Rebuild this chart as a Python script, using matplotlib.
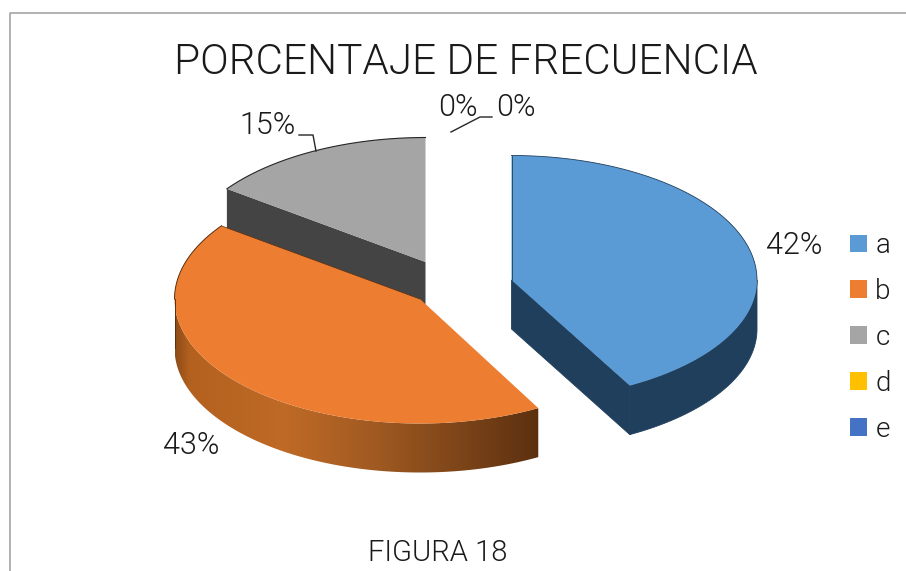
import numpy as np
import matplotlib
matplotlib.use("Agg")
import matplotlib.pyplot as plt
from matplotlib.colors import LinearSegmentedColormap
from matplotlib.patches import Patch, Polygon

categories = ["a", "b", "c", "d", "e"]
values = [42, 43, 15, 0, 0]
labels = ["42%", "43%", "15%", "0%", "0%"]
title = "PORCENTAJE DE FRECUENCIA"
caption = "FIGURA 18"
top_colors = ["#5B9BD5", "#ED7D31", "#A5A5A5", "#FFC000", "#4472C4"]
side_colors = ["#203F5C", "#7A4015", "#444444", "#7F6000", "#203864"]
edge_colors = ["#1F3F5C", "#5C2F10", "#262626", "#7F6000", "#203864"]

FONT = "Roboto"
W = 300
fig = plt.figure(figsize=(9.06, 5.71), dpi=100)
ax = fig.add_axes([0, 0, 1, 1])
ax.set_axis_off()

RX, RY, DEPTH = 245.5, 124.5, 49
centers = {0: (511.5, 280), 1: (420, 299), 2: (425.5, 262)}
front_ry = {0: 120.5, 1: 124.5, 2: 124.5}


def arc(c, t0, t1, dy=0, n=200, ry=RY):
    t = np.radians(np.linspace(t0, t1, n))
    cos = np.cos(t)
    k = np.where(cos < 0, ry, RY)
    return np.column_stack([c[0] + RX * np.sin(t), c[1] - k * cos + dy])


def wall(c, t0, t1, ry=RY):
    a = arc(c, t0, t1, ry=ry)
    return np.vstack([a, arc(c, t0, t1, DEPTH, ry=ry)[::-1]])


edges = np.concatenate([[0], np.cumsum(values)]) / sum(values) * 360
spans = [(edges[i], edges[i + 1]) for i in range(len(values))]

# Grey slice, furthest back
c = centers[2]
t0, t1 = spans[2]
end = arc(c, t0, t0, n=1)[0]
ax.add_patch(Polygon([end, c, (c[0], c[1] + DEPTH), (end[0], end[1] + DEPTH)],
                     fc=side_colors[2], ec="none", zorder=1))
ax.add_patch(Polygon(np.vstack([[c], arc(c, t0, t1)]), fc=top_colors[2], ec="none", zorder=2))
ax.plot(*arc(c, t0, t1).T, color=edge_colors[2], lw=0.8, zorder=3)

# Blue slice
c = centers[0]
t0, t1 = spans[0]
ry = front_ry[0]
end = arc(c, t1, t1, n=1, ry=ry)[0]
ax.add_patch(Polygon([c, end, (end[0], end[1] + DEPTH), (c[0], c[1] + DEPTH)],
                     fc=side_colors[0], ec=side_colors[0], lw=0.6, zorder=2))
ax.add_patch(Polygon(wall(c, 90, t1, ry=ry), fc=side_colors[0], ec=side_colors[0], lw=0.6, zorder=2))
ax.add_patch(Polygon(np.vstack([[c], arc(c, t0, t1, ry=ry)]), fc=top_colors[0], ec="none", zorder=3))
ax.plot(*arc(c, t0, 90).T, color=edge_colors[0], lw=0.6, zorder=4)
ax.plot([c[0], c[0]], [c[1] - RY, c[1]], color=edge_colors[0], lw=0.6, zorder=4)

# Orange slice with shaded wall
c = centers[1]
t0, t1 = spans[1]
grad = LinearSegmentedColormap.from_list(
    "wall", [(0, "#8F4C18"), (0.04, "#B4611F"), (0.3, "#BF6A26"),
             (0.55, "#A05A22"), (0.8, "#7A4318"), (1, "#5C300F")])
poly = Polygon(wall(c, t0, 270), fc="none", ec="none", transform=ax.transData)
ax.add_patch(poly)
x0, x1 = c[0] - RX, c[0] + RX * np.sin(np.radians(t0))
im = ax.imshow(np.linspace(0, 1, 256)[None, :], cmap=grad, aspect="auto",
               extent=(x0, x1, c[1] + RY + DEPTH + 2, c[1] - 2), zorder=4)
im.set_clip_path(poly)
ax.add_patch(Polygon(np.vstack([[c], arc(c, t0, t1)]), fc=top_colors[1], ec="none", zorder=5))
back = arc(c, 270, t1)
ax.plot(*back.T, color=edge_colors[1], lw=0.7, zorder=6)
ax.plot([back[-1][0], c[0]], [back[-1][1], c[1]], color=edge_colors[1], lw=0.5, zorder=6)
ax.plot([x0, x0], [c[1], c[1] + DEPTH], color=edge_colors[1], lw=0.7, zorder=6)

# Chart frame
ax.plot([10, 10, 906], [571, 13, 13], color="#A6A6A6", lw=1.2, zorder=0)

txt = dict(family=FONT, weight=W, color="#1A1A1A", ha="center", va="center", zorder=8)
ax.text(465.5, 63, title, fontsize=30.4, **txt)
ax.text(438, 553, caption, fontsize=21, **txt)
ax.text(794, 246, labels[0], fontsize=22, **txt)
ax.text(191, 446, labels[1], fontsize=22, **txt)
ax.text(268, 125, labels[2], fontsize=22, **txt)
ax.text(458, 108, labels[3], fontsize=22, **txt)
ax.text(516, 108, labels[4], fontsize=22, **txt)
ax.plot([299, 313, 316], [135, 135, 151], color="#262626", lw=1, zorder=8)
ax.plot([451, 480, 492], [132, 117, 117], color="#262626", lw=1, zorder=8)

handles = [Patch(fc=col, ec="none", label=name) for col, name in zip(top_colors, categories)]
leg = ax.legend(handles=handles, loc="center left", bbox_to_anchor=(850, 337.5),
                bbox_transform=ax.transData, frameon=False, handlelength=0.61, handleheight=0.61,
                handletextpad=0.3, labelspacing=0.68, borderpad=0, borderaxespad=0,
                prop=dict(family=FONT, weight=W, size=20))
for t in leg.get_texts():
    t.set_color("#1A1A1A")

ax.set_xlim(0, 906)
ax.set_ylim(571, 0)
fig.savefig("out.png", dpi=100, facecolor="white")
